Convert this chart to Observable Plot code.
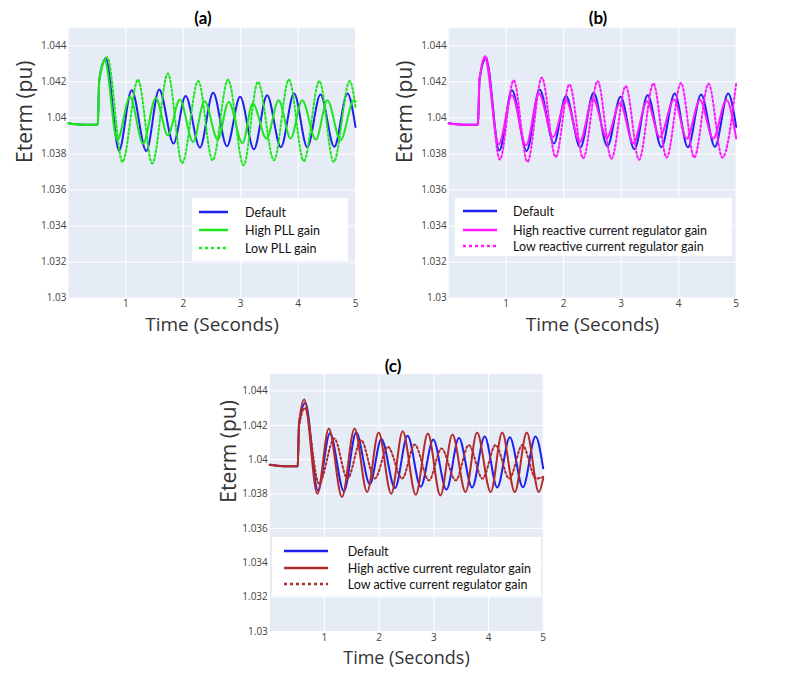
<!DOCTYPE html>
<html>
<head>
<meta charset="utf-8">
<script src="https://cdn.jsdelivr.net/npm/d3@7"></script>
<script src="https://cdn.jsdelivr.net/npm/@observablehq/plot@0.6"></script>
<style>
  body { margin: 0; background: #fff; }
  #root { position: relative; width: 804px; height: 688px; overflow: hidden; background: #fff; }
  .abs { position: absolute; }
  .title { position: absolute; font-family: Lato, "Open Sans", sans-serif; font-weight: bold; font-size: 17px; color: #000; transform: translate(-50%, -50%); white-space: nowrap; }
  .legend { position: absolute; background: #fff; }
  .legend .txt { position: absolute; font-family: Lato, sans-serif; font-size: 12.5px; color: #111; transform: translateY(-50%); white-space: nowrap; }
  .legend svg { position: absolute; overflow: visible; }
</style>
</head>
<body>
<div id="root"></div>
<script>
// ---------- data ----------
const xTicks = [1, 2, 3, 4, 5];
const yTicks = [1.03, 1.032, 1.034, 1.036, 1.038, 1.04, 1.042, 1.044];

// Default (same in all panels)
const defaultT = [0, 0.25, 0.51, 0.535, 0.65, 0.88, 1.10, 1.355, 1.58, 1.83, 2.04, 2.29, 2.52, 2.76, 2.99, 3.23, 3.46, 3.70, 3.93, 4.16, 4.39, 4.63, 4.86, 5.0];
const defaultV = [1.0397, 1.03962, 1.03962, 1.0421, 1.0433, 1.0382, 1.04154, 1.03817, 1.04158, 1.03858, 1.04121, 1.03835, 1.04139, 1.03843, 1.04117, 1.03826, 1.04126, 1.03838, 1.04135, 1.03838, 1.0413, 1.0384, 1.04135, 1.0395];

// (a) PLL gain
const highPllT = [0, 0.25, 0.51, 0.535, 0.63, 0.85, 1.07, 1.30, 1.52, 1.73, 1.94, 2.17, 2.37, 2.60, 2.79, 3.03, 3.21, 3.45, 3.66, 3.87, 4.07, 4.31, 4.51, 4.74, 4.97, 5.0];
const highPllV = [1.0397, 1.03962, 1.03962, 1.0421, 1.0432, 1.03876, 1.04117, 1.03858, 1.04111, 1.03904, 1.04102, 1.03867, 1.04094, 1.0388, 1.04089, 1.0386, 1.0408, 1.03885, 1.04098, 1.03886, 1.04098, 1.0388, 1.04098, 1.03876, 1.04098, 1.0409];
const lowPllT = [0, 0.25, 0.51, 0.54, 0.675, 0.94, 1.21, 1.46, 1.73, 1.98, 2.26, 2.51, 2.78, 3.05, 3.30, 3.58, 3.84, 4.10, 4.37, 4.62, 4.90, 5.0];
const lowPllV = [1.0397, 1.03962, 1.03962, 1.0421, 1.04336, 1.03756, 1.04213, 1.03747, 1.04247, 1.0375, 1.04205, 1.03765, 1.04213, 1.03737, 1.0420, 1.03765, 1.04213, 1.0376, 1.04205, 1.03756, 1.04205, 1.0406];

// (b) reactive current regulator gain
const highReactT = [0, 0.25, 0.51, 0.535, 0.63, 0.87, 1.10, 1.345, 1.57, 1.815, 2.04, 2.28, 2.51, 2.75, 2.98, 3.21, 3.45, 3.67, 3.92, 4.14, 4.37, 4.60, 4.83, 5.0];
const highReactV = [1.0397, 1.03962, 1.03962, 1.0421, 1.0433, 1.03854, 1.04126, 1.03848, 1.04135, 1.03894, 1.04098, 1.03867, 1.04108, 1.0389, 1.04083, 1.0386, 1.04093, 1.03894, 1.04102, 1.03885, 1.041, 1.03885, 1.041, 1.03886];
const lowReactT = [0, 0.25, 0.51, 0.535, 0.64, 0.89, 1.13, 1.37, 1.62, 1.86, 2.10, 2.34, 2.59, 2.83, 3.08, 3.31, 3.56, 3.79, 4.04, 4.27, 4.52, 4.76, 5.0];
const lowReactV = [1.0397, 1.03962, 1.03962, 1.0421, 1.04343, 1.03769, 1.04209, 1.03756, 1.04224, 1.03783, 1.04186, 1.03776, 1.04204, 1.03774, 1.04176, 1.03768, 1.04191, 1.0378, 1.04194, 1.0378, 1.0419, 1.0378, 1.04194];

// (c) active current regulator gain
const highActT = [0, 0.25, 0.51, 0.535, 0.63, 0.87, 1.08, 1.32, 1.55, 1.78, 1.99, 2.22, 2.43, 2.67, 2.89, 3.12, 3.34, 3.58, 3.79, 4.04, 4.25, 4.48, 4.70, 4.92, 5.0];
const highActV = [1.0397, 1.03962, 1.03962, 1.0421, 1.04351, 1.03802, 1.04181, 1.03783, 1.04181, 1.03812, 1.04158, 1.03802, 1.04165, 1.03796, 1.04152, 1.03792, 1.04146, 1.03812, 1.04158, 1.03812, 1.04158, 1.03812, 1.04158, 1.03812, 1.0389];
const lowActT = [0, 0.25, 0.51, 0.535, 0.64, 0.90, 1.18, 1.42, 1.67, 1.92, 2.16, 2.42, 2.65, 2.91, 3.14, 3.40, 3.64, 3.89, 4.13, 4.38, 4.62, 4.87, 5.0];
const lowActV = [1.0397, 1.03962, 1.03962, 1.0419, 1.0430, 1.03861, 1.04123, 1.0389, 1.04113, 1.0389, 1.04074, 1.0389, 1.04088, 1.0388, 1.04065, 1.0388, 1.04085, 1.0389, 1.04085, 1.0389, 1.04085, 1.0389, 1.0390];

const titles = ["(a)", "(b)", "(c)"];
const xLabel = "Time (Seconds)";
const yLabel = "Eterm (pu)";

// ---------- helpers ----------
const toRows = (T, V) => T.map((t, i) => ({ t, v: V[i] }));
const BLUE = "#1f1fee", GREEN = "#1ee61e", MAGENTA = "#ff19ff", BROWN = "#b22a2a";
const DOT = "2,2.4";

const panels = [
  {
    svgLeft: 0, svgTop: 0, mL: 68, mT: 27.3, w: 287, h: 270.4, xlDy: 27, xlSize: 19, ylDx: -43, ylSize: 21,
    title: titles[0], titleX: 203, titleY: 17,
    series: [
      { name: "Default", T: defaultT, V: defaultV, color: BLUE, dash: null },
      { name: "High PLL gain", T: highPllT, V: highPllV, color: GREEN, dash: null },
      { name: "Low PLL gain", T: lowPllT, V: lowPllV, color: GREEN, dash: DOT }
    ],
    legend: { x: 192, y: 198, w: 156, h: 63, sx0: 199, sx1: 228, tx: 245, rows: [212, 230, 248] }
  },
  {
    svgLeft: 380, svgTop: 0, mL: 68.2, mT: 27.3, w: 287.5, h: 270.4, xlDy: 27, xlSize: 19, ylDx: -43, ylSize: 21,
    title: titles[1], titleX: 598, titleY: 17,
    series: [
      { name: "Default", T: defaultT, V: defaultV, color: BLUE, dash: null },
      { name: "High reactive current regulator gain", T: highReactT, V: highReactV, color: MAGENTA, dash: null },
      { name: "Low reactive current regulator gain", T: lowReactT, V: lowReactV, color: MAGENTA, dash: DOT }
    ],
    legend: { x: 455, y: 198, w: 277, h: 58, sx0: 463, sx1: 497, tx: 513, rows: [211, 229.5, 245.5] }
  },
  {
    svgLeft: 200, svgTop: 345, mL: 69.3, mT: 28.3, w: 273.4, h: 257.7, xlDy: 27, xlSize: 18, ylDx: -41, ylSize: 21,
    title: titles[2], titleX: 393, titleY: 365,
    series: [
      { name: "Default", T: defaultT, V: defaultV, color: BLUE, dash: null },
      { name: "High active current regulator gain", T: highActT, V: highActV, color: BROWN, dash: null },
      { name: "Low active current regulator gain", T: lowActT, V: lowActV, color: BROWN, dash: DOT }
    ],
    legend: { x: 272.3, y: 537.3, w: 268.4, h: 58.4, sx0: 284.3, sx1: 328.3, tx: 347.7, rows: [550.7, 567.7, 584.3] }
  }
];

const root = document.getElementById("root");
const fmtY = d => String(+d.toFixed(3));

for (const p of panels) {
  const mR = 15, mB = 50;
  const lineMarks = p.series.map(s =>
    Plot.line(toRows(s.T, s.V), {
      x: "t", y: "v", stroke: s.color, strokeWidth: 2,
      strokeDasharray: s.dash || undefined, curve: "monotone-x"
    })
  );
  const chart = Plot.plot({
    width: p.mL + p.w + mR,
    height: p.mT + p.h + mB,
    marginLeft: p.mL, marginTop: p.mT, marginRight: mR, marginBottom: mB,
    x: { domain: [0, 5] },
    y: { domain: [1.03, 1.045] },
    style: { background: "transparent", fontFamily: "'Open Sans', sans-serif", fontSize: "10px", color: "#444", overflow: "visible" },
    marks: [
      Plot.frame({ fill: "#E5ECF6", stroke: "none" }),
      Plot.gridX(xTicks, { stroke: "#fff", strokeOpacity: 1, strokeWidth: 1 }),
      Plot.gridY(yTicks, { stroke: "#fff", strokeOpacity: 1, strokeWidth: 1 }),
      Plot.axisX(xTicks, { tickSize: 0, tickPadding: 2, label: null, fill: "#444" }),
      Plot.axisY(yTicks, { tickSize: 0, tickPadding: 2, label: null, tickFormat: fmtY, fill: "#444" }),
      ...lineMarks,
      Plot.text([xLabel], { text: d => d, frameAnchor: "bottom", lineAnchor: "middle", dy: p.xlDy, fontSize: p.xlSize, fill: "#333" }),
      Plot.text([yLabel], { text: d => d, frameAnchor: "left", lineAnchor: "middle", dx: p.ylDx, rotate: -90, fontSize: p.ylSize, fill: "#333" })
    ]
  });
  chart.classList.add("abs");
  chart.style.left = p.svgLeft + "px";
  chart.style.top = p.svgTop + "px";
  root.appendChild(chart);

  // title
  const t = document.createElement("div");
  t.className = "title";
  t.style.left = p.titleX + "px";
  t.style.top = p.titleY + "px";
  t.textContent = p.title;
  root.appendChild(t);

  // legend
  const L = p.legend;
  const box = document.createElement("div");
  box.className = "legend";
  box.style.left = L.x + "px"; box.style.top = L.y + "px";
  box.style.width = L.w + "px"; box.style.height = L.h + "px";
  p.series.forEach((s, i) => {
    const ns = "http://www.w3.org/2000/svg";
    const svg = document.createElementNS(ns, "svg");
    svg.setAttribute("width", L.sx1 - L.sx0);
    svg.setAttribute("height", 6);
    svg.style.left = (L.sx0 - L.x) + "px";
    svg.style.top = (L.rows[i] - L.y - 3) + "px";
    const ln = document.createElementNS(ns, "line");
    ln.setAttribute("x1", 0); ln.setAttribute("x2", L.sx1 - L.sx0);
    ln.setAttribute("y1", 3); ln.setAttribute("y2", 3);
    ln.setAttribute("stroke", s.color);
    ln.setAttribute("stroke-width", 2.5);
    if (s.dash) ln.setAttribute("stroke-dasharray", "3,3");
    svg.appendChild(ln);
    box.appendChild(svg);
    const tx = document.createElement("div");
    tx.className = "txt";
    tx.style.left = (L.tx - L.x) + "px";
    tx.style.top = (L.rows[i] - L.y) + "px";
    tx.textContent = s.name;
    box.appendChild(tx);
  });
  root.appendChild(box);
}
</script>
</body>
</html>
